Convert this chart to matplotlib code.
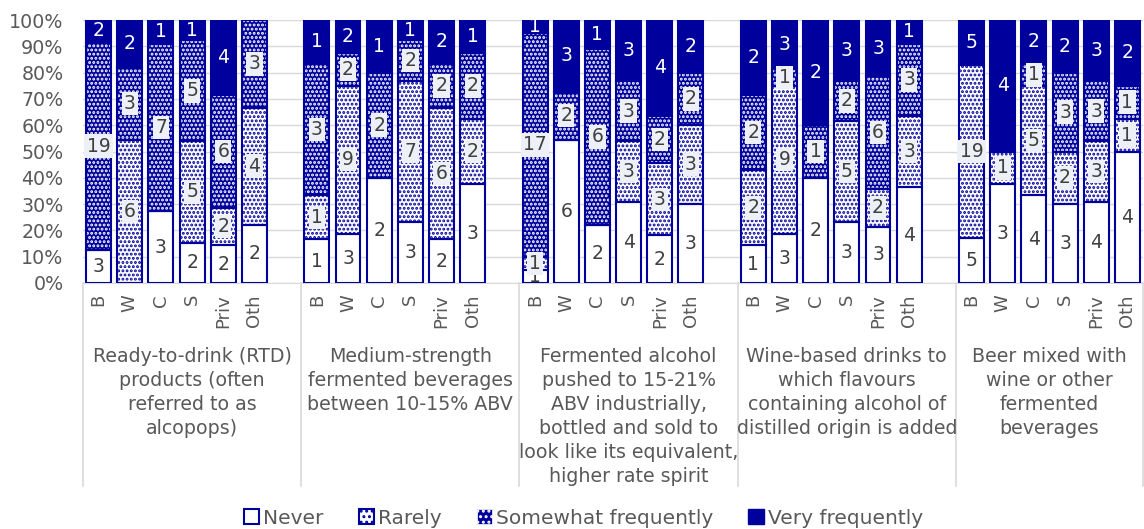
import numpy as np
import matplotlib
matplotlib.use("Agg")
import matplotlib.pyplot as plt
from matplotlib.patches import Patch

NAVY = "#00009C"
GREY = "#595959"
DARK = "#404040"
GRID = "#D9D9D9"

categories = ["B", "W", "C", "S", "Priv", "Oth"]
groups = [
    "Ready-to-drink (RTD)\nproducts (often\nreferred to as\nalcopops)",
    "Medium-strength\nfermented beverages\nbetween 10-15% ABV",
    "Fermented alcohol\npushed to 15-21%\nABV industrially,\nbottled and sold to\n"
    "look like its equivalent,\nhigher rate spirit",
    "Wine-based drinks to\nwhich flavours\ncontaining alcohol of\ndistilled origin is added",
    "Beer mixed with\nwine or other\nfermented\nbeverages",
]
series = ["Never", "Rarely", "Somewhat frequently", "Very frequently"]

# counts: one row per group, columns B, W, C, S, Priv, Oth
never = [
    [3, 0, 3, 2, 2, 2],
    [1, 3, 2, 3, 2, 3],
    [1, 6, 2, 4, 2, 3],
    [1, 3, 2, 3, 3, 4],
    [5, 3, 4, 3, 4, 4],
]
rarely = [
    [0, 6, 0, 5, 2, 4],
    [1, 9, 0, 7, 6, 2],
    [1, 0, 0, 3, 3, 3],
    [2, 9, 0, 5, 2, 3],
    [19, 1, 5, 2, 3, 1],
]
somewhat = [
    [19, 3, 7, 5, 6, 3],
    [3, 2, 2, 2, 2, 2],
    [17, 2, 6, 3, 2, 2],
    [2, 1, 1, 2, 6, 3],
    [0, 0, 1, 3, 3, 1],
]
very = [
    [2, 2, 1, 1, 4, 0],
    [1, 2, 1, 1, 2, 1],
    [1, 3, 1, 3, 4, 2],
    [2, 3, 2, 3, 3, 1],
    [5, 4, 2, 2, 3, 2],
]

plt.rcParams["font.family"] = ["DejaVu Sans"]
plt.rcParams["hatch.linewidth"] = 1.4

counts = np.array([never, rarely, somewhat, very], dtype=float)  # (4, 5, 6)
totals = counts.sum(axis=0)
shares = counts / totals * 100

n_cat = len(categories)
slot = n_cat + 1  # one blank slot between groups
x = np.array([g * slot + i for g in range(len(groups)) for i in range(n_cat)])

# face, hatch colour, hatch, label colour, label box
styles = [
    ("white", NAVY, "", DARK, False),
    ("white", NAVY, "....", DARK, True),
    (NAVY, "white", "....", DARK, True),
    (NAVY, NAVY, "", "white", False),
]

fig = plt.figure(figsize=(11.44, 5.29), dpi=100)
ax = fig.add_axes([83 / 1144, 1 - 283 / 529, 1060 / 1144, 263 / 529])

bottom = np.zeros(len(x))
for s, (face, hcol, hatch, tcol, box) in enumerate(styles):
    vals = counts[s].ravel()
    h = shares[s].ravel()
    ax.bar(x, h, bottom=bottom, width=0.8, color=face, edgecolor=hcol,
           hatch=hatch, linewidth=0, zorder=2)
    ax.bar(x, h, bottom=bottom, width=0.8, fill=False, edgecolor=NAVY,
           linewidth=1.5, zorder=3)
    for xi, hi, bi, v in zip(x, h, bottom, vals):
        if v == 0:
            continue
        kw = {}
        if box:
            kw["bbox"] = dict(boxstyle="square,pad=0.12", fc="#EEF0F7", ec="none")
        ax.text(xi, bi + hi / 2, f"{int(v)}", ha="center", va="center",
                fontsize=13.5, color=tcol, zorder=4, **kw)
    bottom += h

ax.set_xlim(-0.5, x[-1] + 0.5)
ax.set_ylim(0, 100)
ax.set_yticks(np.arange(0, 101, 10))
ax.set_yticklabels([f"{v}%" for v in range(0, 101, 10)])
ax.set_xticks(x)
ax.set_xticklabels(categories * len(groups), rotation=90)
ax.tick_params(axis="y", length=0, pad=14, labelsize=13.7, labelcolor=GREY)
ax.tick_params(axis="x", length=0, pad=8, labelsize=13, labelcolor=GREY)
ax.yaxis.grid(True, color=GRID, linewidth=1)
ax.set_axisbelow(True)
for side in ["left", "right", "top"]:
    ax.spines[side].set_visible(False)
ax.spines["bottom"].set_color(GRID)

# group labels and separators of the two-level category axis
trans = ax.get_xaxis_transform()
edges = [g * slot - 0.5 for g in range(len(groups))] + [x[-1] + 0.5]
for g, name in enumerate(groups):
    centre = (edges[g] + min(edges[g + 1], g * slot + slot - 0.5)) / 2
    ax.text(centre, -0.245, name, transform=trans, ha="center", va="top",
            fontsize=13.7, color=GREY, linespacing=1.33, multialignment="center")
for e in edges:
    ax.plot([e, e], [0, -0.77], transform=trans, color=GRID, linewidth=1.2,
            clip_on=False)

handles = [
    Patch(facecolor="white", edgecolor=NAVY, linewidth=1.5),
    Patch(facecolor="white", edgecolor=NAVY, hatch="...", linewidth=1.5),
    Patch(facecolor=NAVY, edgecolor="white", hatch="...", linewidth=0.5),
    Patch(facecolor=NAVY, edgecolor=NAVY),
]
fig.legend(handles, series, loc="center", bbox_to_anchor=(0.51, 1 - 518 / 529),
           ncol=4, frameon=False, fontsize=14.5, labelcolor=GREY,
           handlelength=0.75, handleheight=0.75, handletextpad=0.2,
           columnspacing=1.75)

fig.savefig("out.png", dpi=100)
